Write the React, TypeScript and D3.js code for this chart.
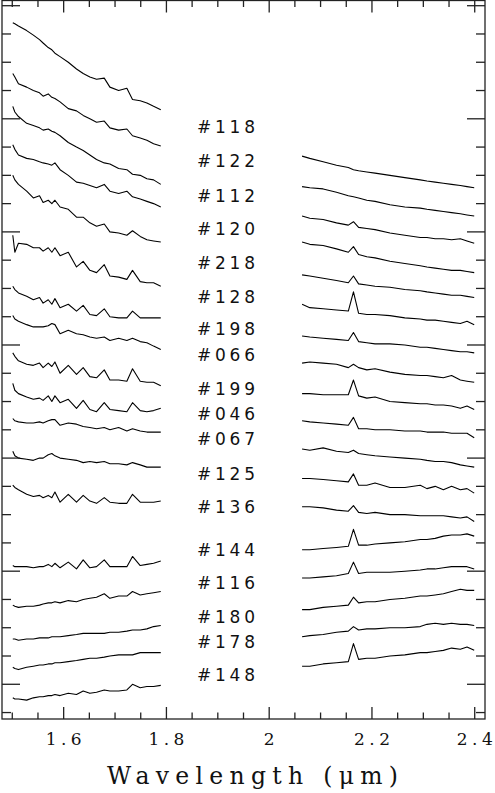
import React, { useRef, useEffect } from "react";
import * as d3 from "d3";

// wavelength grids (micron) for the H and K band pieces
const hWave = [1.501, 1.505, 1.512, 1.528, 1.541, 1.553, 1.56, 1.57, 1.577, 1.583, 1.593, 1.609, 1.625, 1.638, 1.651, 1.664, 1.679, 1.69, 1.707, 1.723, 1.734, 1.749, 1.762, 1.775, 1.789];
const kWave = [2.064, 2.079, 2.105, 2.131, 2.154, 2.164, 2.174, 2.19, 2.206, 2.235, 2.264, 2.294, 2.307, 2.323, 2.339, 2.355, 2.372, 2.385, 2.399];

const stars = ["#118", "#122", "#112", "#120", "#218", "#128", "#198", "#066", "#199", "#046", "#067", "#125", "#136", "#144", "#116", "#180", "#178", "#148"];
// flux level (offset units) where each name sits
const labelLevel = [493, 463, 432, 403, 373, 343, 314, 291, 261, 239, 217, 186, 157, 119, 90, 60, 38, 8];

// H band, flux + offset
const h118 = [585, 584, 582, 578, 574, 570, 567, 563, 561, 558, 555, 550, 544, 540, 537, 535, 536, 528, 525, 527, 517, 516, 514, 511, 508];
const h122 = [540, 537, 531, 528, 525, 523, 520, 522, 519, 518, 515, 509, 507, 503, 500, 497, 498, 492, 490, 491, 485, 483, 481, 478, 476];
const h112 = [511, 506, 502, 496, 494, 492, 490, 491, 489, 488, 485, 479, 475, 472, 468, 464, 461, 460, 456, 455, 451, 450, 447, 446, 442];
const h120 = [477, 473, 468, 465, 464, 462, 461, 460, 459, 461, 455, 450, 444, 443, 441, 439, 442, 436, 434, 436, 431, 429, 427, 425, 422];
const h218 = [450, 446, 442, 436, 430, 432, 426, 428, 425, 428, 422, 420, 413, 413, 408, 405, 407, 400, 399, 397, 401, 396, 393, 392, 391];
const h128 = [397, 382, 390, 389, 386, 386, 383, 386, 382, 386, 379, 382, 369, 374, 366, 364, 371, 361, 360, 358, 366, 356, 355, 355, 352];
const h198 = [352, 349, 346, 343, 340, 342, 337, 340, 336, 341, 333, 336, 330, 335, 327, 326, 332, 325, 324, 324, 330, 324, 324, 324, 324];
const h066 = [326, 323, 321, 318, 316, 316, 316, 317, 319, 318, 310, 313, 310, 309, 307, 306, 307, 304, 306, 304, 306, 303, 302, 299, 296];
const h199 = [293, 290, 286, 283, 282, 284, 280, 284, 281, 285, 275, 282, 274, 280, 272, 271, 278, 269, 269, 268, 279, 268, 267, 267, 264];
const h046 = [266, 260, 257, 254, 252, 253, 251, 255, 250, 255, 249, 252, 244, 251, 243, 241, 249, 243, 242, 241, 249, 242, 241, 242, 244];
const h067 = [235, 233, 232, 231, 231, 232, 231, 233, 234, 234, 229, 231, 230, 228, 227, 226, 227, 225, 227, 224, 226, 224, 223, 223, 223];
const h125 = [206, 202, 200, 199, 198, 200, 200, 203, 204, 202, 200, 199, 198, 196, 197, 196, 197, 195, 195, 194, 196, 194, 192, 192, 192];
const h136 = [176, 174, 172, 168, 166, 167, 165, 167, 165, 170, 161, 168, 161, 167, 162, 160, 165, 161, 160, 160, 168, 161, 161, 161, 162];
const h144 = [105, 104, 104, 104, 103, 104, 104, 106, 104, 107, 103, 108, 102, 110, 103, 104, 110, 104, 104, 104, 113, 105, 106, 107, 109];
const h116 = [70, 69, 68, 69, 69, 70, 71, 72, 72, 73, 72, 74, 73, 75, 76, 77, 80, 76, 78, 78, 82, 79, 80, 81, 82];
const h180 = [40, 40, 39, 40, 40, 41, 41, 41, 42, 42, 42, 43, 44, 45, 45, 45, 45, 46, 46, 47, 48, 48, 49, 51, 52];
const h178 = [15, 14, 13, 15, 16, 17, 17, 18, 18, 19, 19, 20, 21, 22, 23, 23, 24, 25, 26, 26, 26, 28, 28, 28, 28];
const h148 = [-12, -13, -13, -14, -12, -11, -11, -10, -10, -9, -10, -8, -9, -6, -8, -7, -5, -6, -6, -5, 0, -3, -2, -2, -1];

// K band, flux + offset
const k118 = [467, 465, 462, 459, 457, 455, 454, 453, 452, 450, 448, 446, 445, 444, 443, 442, 441, 440, 439];
const k122 = [440, 439, 438, 435, 432, 431, 430, 428, 427, 424, 422, 421, 420, 419, 418, 417, 416, 415, 414];
const k112 = [414, 412, 411, 408, 406, 409, 404, 403, 402, 399, 397, 395, 395, 394, 394, 393, 394, 392, 390];
const k120 = [391, 389, 388, 385, 382, 387, 380, 378, 377, 374, 372, 370, 369, 368, 367, 366, 366, 365, 364];
const k218 = [362, 361, 359, 357, 355, 361, 354, 353, 352, 351, 349, 348, 347, 346, 345, 344, 344, 343, 342];
const k128 = [336, 333, 332, 331, 330, 347, 328, 327, 327, 326, 324, 323, 322, 322, 321, 320, 319, 321, 318];
const k198 = [308, 307, 306, 305, 304, 311, 303, 302, 301, 301, 300, 298, 298, 297, 296, 295, 294, 294, 293];
const k066 = [284, 285, 284, 283, 280, 283, 280, 278, 279, 276, 274, 273, 273, 272, 271, 273, 269, 268, 267];
const k199 = [257, 257, 256, 256, 256, 269, 255, 253, 254, 250, 249, 248, 248, 247, 247, 246, 244, 246, 243];
const k046 = [233, 232, 231, 230, 229, 236, 226, 226, 225, 225, 224, 224, 223, 223, 223, 222, 222, 222, 218];
const k067 = [208, 207, 209, 206, 205, 207, 204, 203, 202, 201, 200, 199, 198, 197, 197, 196, 194, 193, 192];
const k125 = [182, 182, 181, 180, 179, 186, 176, 176, 178, 174, 174, 176, 173, 175, 172, 175, 172, 173, 169];
const k136 = [157, 157, 156, 154, 153, 158, 152, 151, 152, 150, 150, 149, 149, 149, 149, 148, 147, 148, 144];
const k144 = [119, 119, 120, 121, 122, 137, 123, 123, 124, 125, 126, 128, 128, 129, 131, 132, 132, 133, 131];
const k116 = [94, 94, 95, 96, 98, 108, 98, 99, 99, 99, 100, 101, 102, 102, 103, 104, 104, 104, 102];
const k180 = [66, 66, 68, 69, 70, 77, 72, 73, 73, 75, 76, 78, 78, 79, 80, 82, 84, 83, 83];
const k178 = [42, 43, 44, 46, 47, 51, 48, 49, 49, 50, 50, 51, 53, 54, 53, 54, 53, 53, 52];
const k148 = [16, 16, 18, 19, 20, 36, 22, 23, 23, 25, 26, 28, 28, 29, 30, 32, 31, 33, 30];

const hSpectra = [h118, h122, h112, h120, h218, h128, h198, h066, h199, h046, h067, h125, h136, h144, h116, h180, h178, h148];
const kSpectra = [k118, k122, k112, k120, k218, k128, k198, k066, k199, k046, k067, k125, k136, k144, k116, k180, k178, k148];

const xLabelValues = [1.6, 1.8, 2.0, 2.2, 2.4];

const App = () => {
  const ref = useRef<SVGSVGElement>(null);
  const width = 495;
  const height = 793;

  useEffect(() => {
    const svg = d3.select(ref.current);
    svg.selectAll("*").remove();

    const frame = { left: 2, right: 485, top: 0.5, bottom: 719 };

    const x = d3.scaleLinear().domain([1.48, 2.42]).range([frame.left, frame.right]);
    const y = d3.scaleLinear().domain([-30.7, 604.6]).range([frame.bottom, frame.top]);

    const line = d3
      .line<[number, number]>()
      .x((d) => x(d[0]))
      .y((d) => y(d[1]));

    const g = svg.append("g");

    // spectra
    const pairs = (wave: number[], flux: number[]) =>
      wave.map((w, i) => [w, flux[i]] as [number, number]);

    g.selectAll(".hspec")
      .data(hSpectra)
      .enter()
      .append("path")
      .attr("d", (d) => line(pairs(hWave, d)))
      .attr("fill", "none")
      .attr("stroke", "#000")
      .attr("stroke-width", 1.1)
      .attr("stroke-linejoin", "round");

    g.selectAll(".kspec")
      .data(kSpectra)
      .enter()
      .append("path")
      .attr("d", (d) => line(pairs(kWave, d)))
      .attr("fill", "none")
      .attr("stroke", "#000")
      .attr("stroke-width", 1.1)
      .attr("stroke-linejoin", "round");

    // star names
    g.selectAll(".name")
      .data(stars)
      .enter()
      .append("text")
      .text((d) => d)
      .attr("x", x(1.8595))
      .attr("y", (d, i) => y(labelLevel[i]) + 6.2)
      .attr("textLength", 58)
      .attr("lengthAdjust", "spacing")
      .style("font-family", "'DejaVu Sans', Verdana, sans-serif")
      .style("font-size", "17px")
      .attr("fill", "#111");

    // frame
    g.append("rect")
      .attr("x", frame.left)
      .attr("y", frame.top)
      .attr("width", frame.right - frame.left)
      .attr("height", frame.bottom - frame.top)
      .attr("fill", "none")
      .attr("stroke", "#222")
      .attr("stroke-width", 1.3);

    // ticks on all four sides
    const xTicks = d3.range(30, 49).map((i) => ({ v: i / 20, major: i % 4 === 0 }));
    const yTicks = d3.range(-1, 25).map((i) => ({ v: i * 25, major: i % 4 === 0 }));

    const ticks = g.append("g").attr("stroke", "#222").attr("stroke-width", 1.3);

    xTicks.forEach((t) => {
      const len = t.major ? 12 : 6.5;
      ticks.append("line")
        .attr("x1", x(t.v)).attr("x2", x(t.v))
        .attr("y1", frame.bottom).attr("y2", frame.bottom - len);
      ticks.append("line")
        .attr("x1", x(t.v)).attr("x2", x(t.v))
        .attr("y1", frame.top).attr("y2", frame.top + len);
    });

    yTicks.forEach((t) => {
      const len = t.major ? 18 : 9;
      ticks.append("line")
        .attr("x1", frame.left).attr("x2", frame.left + len)
        .attr("y1", y(t.v)).attr("y2", y(t.v));
      ticks.append("line")
        .attr("x1", frame.right).attr("x2", frame.right - len)
        .attr("y1", y(t.v)).attr("y2", y(t.v));
    });

    // x tick labels
    const fmt = d3.format("~g");
    g.selectAll(".xlab")
      .data(xLabelValues)
      .enter()
      .append("text")
      .text((d) => fmt(d))
      .attr("x", (d) => x(d))
      .attr("y", 745)
      .attr("text-anchor", "middle")
      .attr("textLength", (d) => (fmt(d).length > 1 ? 36 : null))
      .attr("lengthAdjust", "spacing")
      .style("font-family", "'DejaVu Serif', Georgia, serif")
      .style("font-size", "17px")
      .attr("fill", "#111");

    // axis title
    g.append("text")
      .text("Wavelength (\u03bcm)")
      .attr("x", 252.5)
      .attr("y", 784)
      .attr("text-anchor", "middle")
      .attr("textLength", 291)
      .attr("lengthAdjust", "spacing")
      .style("font-family", "'DejaVu Serif', Georgia, serif")
      .style("font-size", "23.5px")
      .attr("fill", "#111");
  }, []);

  return (
    <svg
      ref={ref}
      width={width}
      height={height}
      style={{ position: "absolute", left: 0, top: 0, background: "#fff" }}
    ></svg>
  );
};

export default App;
